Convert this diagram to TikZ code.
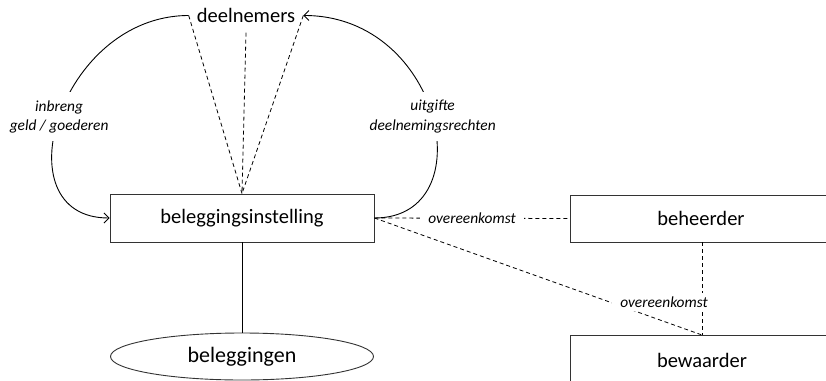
\documentclass[tikz,border=0pt]{standalone}
\usepackage{fontspec}
\setmainfont{Carlito}
\usetikzlibrary{arrows.meta,shapes.geometric}
\begin{document}
\begin{tikzpicture}[x=1pt,y=-1pt,
  every node/.style={font=\fontsize{20.5}{24}\selectfont},
  box/.style={draw=black!80, line width=0.9pt, minimum width=#1, inner sep=0pt},
  lbl/.style={fill=white, font=\fontsize{15.4}{19.5}\selectfont\itshape, align=center, inner xsep=4pt, inner ysep=8pt},
  olbl/.style={fill=white, font=\fontsize{15.4}{19.5}\selectfont\itshape, inner xsep=8pt, inner ysep=4pt},
  dsh/.style={line width=0.8pt, dash pattern=on 4pt off 3pt},
  arr/.style={line width=0.9pt, -{Straight Barb[length=5pt,width=10pt]}},
  ln/.style={line width=0.9pt}]
\useasboundingbox (0,0) rectangle (826,380);
% nodes
\node[box=264pt, minimum height=48pt] (inst) at (242,218) {beleggingsinstelling};
\node[box=280pt, minimum height=47pt] (beh) at (710,218.5) {beheerder\hspace*{18pt}};
\node[box=280pt, minimum height=50pt] (bew) at (710,360) {bewaarder\hspace*{16pt}};
\coordinate (bewtop) at (702,335);
\coordinate (behbot) at (702,242);
\node[draw=black!80, line width=0.9pt, ellipse, minimum width=263pt, minimum height=47pt, inner sep=0pt,
  font=\fontsize{22}{26}\selectfont] (bel) at (242,356.5) {beleggingen};
\node[inner xsep=8pt, inner ysep=0pt, text height=13pt, text depth=0pt, minimum height=34pt] (deel) at (246,15.5) {deelnemers};
% connectors
\draw[ln] (inst.south) -- (bel.north);
\draw[dsh] (deel.west) -- (inst.north);
\draw[dsh] (deel.south) -- (inst.north);
\draw[dsh] (deel.east) -- (inst.north);
\draw[arr] (deel.west) .. controls +(-130,0) and +(-110,0) .. node[lbl] (l1) {inbreng\\geld / goederen} (inst.west);
\draw[arr] (inst.east) .. controls +(110,0) and +(140,0) .. node[lbl] (l2) {uitgifte\\deelnemingsrechten} (deel.east);
\draw[dsh] (inst.east) -- node[olbl] (o1) {overeenkomst} (beh.west);
\draw[dsh] (inst.east) -- (bewtop);
\draw[dsh] (behbot) -- (bewtop);
\node[olbl] (o2) at (664,302) {overeenkomst};
\end{tikzpicture}
\end{document}
